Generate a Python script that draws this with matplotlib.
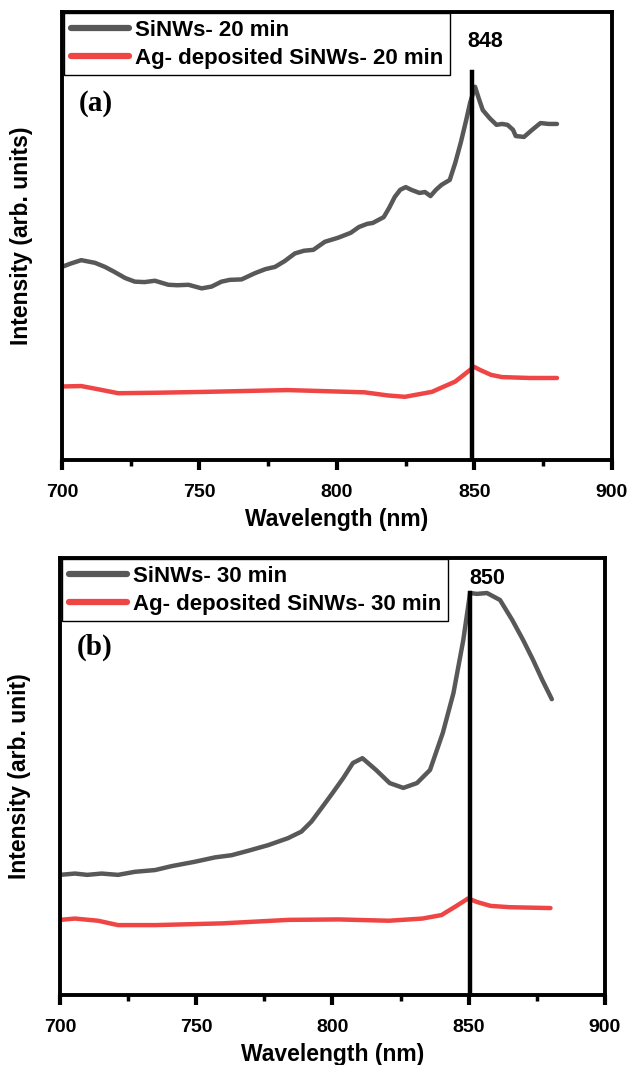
import numpy as np
import matplotlib.pyplot as plt
from matplotlib.ticker import MultipleLocator

# panel (a) readings
wl_a_gray = [700, 703, 707, 712, 715.6, 719, 723, 726.5, 730, 733.8, 738.7, 742, 746, 750.8,
             754.4, 758, 761, 765.3, 770.2, 774, 777.5, 781, 784.7, 788, 791.4, 795.6, 800.4,
             805, 808, 811, 813, 817, 819, 821, 823, 825, 827, 830, 832, 834, 836, 838, 841,
             843, 845, 847, 848.4, 850.2, 851.5, 853, 855.5, 858, 860, 862, 864, 865, 868,
             871, 874, 877, 880]
int_a_gray = [43.1, 43.8, 44.6, 44.0, 43.1, 42.0, 40.6, 39.8, 39.7, 40.0, 39.1, 39.0, 39.1,
              38.3, 38.7, 39.8, 40.2, 40.3, 41.7, 42.6, 43.1, 44.4, 46.1, 46.7, 46.9, 48.7,
              49.6, 50.7, 52.0, 52.7, 52.9, 54.2, 56.3, 58.7, 60.3, 60.9, 60.3, 59.6, 59.8,
              58.9, 60.3, 61.4, 62.5, 66.3, 70.8, 75.9, 79.7, 83.3, 80.8, 78.1, 76.3, 74.8,
              75.0, 74.8, 73.7, 72.3, 72.1, 73.7, 75.2, 75.0, 75.0]
wl_a_red = [700, 707, 713, 720.4, 733.8, 752, 782, 810, 818.5, 824.7, 834.5, 843, 848.4,
            849.8, 852, 856, 860, 870, 880]
int_a_red = [16.4, 16.5, 15.8, 14.9, 15.0, 15.2, 15.6, 15.1, 14.4, 14.1, 15.2, 17.5, 20.1,
             20.8, 20.1, 19.0, 18.5, 18.3, 18.3]

# panel (b) readings
wl_b_gray = [700, 705.5, 710, 715.3, 721.3, 727.5, 734.9, 741, 749.5, 756.9, 763, 769, 776.4,
             783.7, 788.6, 792.3, 796, 800, 804, 807.5, 811, 816, 821, 826, 831, 835.8,
             840.5, 844.4, 848, 850.5, 853, 856.7, 861.5, 866, 870, 873.6, 877, 880.5]
int_b_gray = [27.5, 27.8, 27.5, 27.8, 27.5, 28.2, 28.6, 29.5, 30.5, 31.5, 32.0, 33.0, 34.3,
              35.9, 37.4, 39.7, 42.8, 46.2, 49.7, 53.1, 54.2, 51.5, 48.5, 47.4, 48.5, 51.5,
              60.0, 69.1, 81.2, 92.0, 91.8, 92.0, 90.4, 85.8, 81.2, 76.7, 72.1, 67.7]
wl_b_red = [700, 705.5, 714, 721.3, 735, 759.5, 784, 802.3, 820.7, 833, 840, 845, 849.8,
            853, 858, 865, 880]
int_b_red = [17.2, 17.5, 17.0, 16.0, 16.0, 16.4, 17.2, 17.3, 17.0, 17.5, 18.3, 20.2, 22.1,
             21.3, 20.4, 20.1, 19.9]

GRAY = '#585858'
RED = '#ef4545'
SANS = 'Liberation Sans'


def panel(ax, wl_g, y_g, wl_r, y_r, minutes, peak, line_top, tag, ylab):
    ax.plot(wl_g, y_g, color=GRAY, lw=3.2, solid_capstyle='round',
            label='SiNWs- %d min' % minutes)
    ax.plot(wl_r, y_r, color=RED, lw=3.2, solid_capstyle='round',
            label='Ag- deposited SiNWs- %d min' % minutes)
    ax.plot([peak[0], peak[0]], [0, line_top], color='black', lw=3.2)
    ax.text(peak[1], peak[2], str(peak[3]), fontsize=15.5, fontweight='bold',
            family=SANS, ha='center', va='center')
    ax.text(706, 79.5, tag, fontsize=21, fontweight='bold', family='Liberation Serif',
            ha='left', va='center')
    ax.set_xlim(700, 900)
    ax.set_ylim(0, 100)
    ax.set_yticks([])
    ax.xaxis.set_major_locator(MultipleLocator(50))
    ax.xaxis.set_minor_locator(MultipleLocator(25))
    ax.tick_params(axis='x', which='major', direction='out', length=7, width=3,
                   labelsize=14, pad=10)
    ax.tick_params(axis='x', which='minor', direction='out', length=4, width=2.5)
    for lab in ax.get_xticklabels():
        lab.set_fontweight('bold')
        lab.set_family(SANS)
    for s in ax.spines.values():
        s.set_linewidth(2.8)
    ax.set_xlabel('Wavelength (nm)', fontsize=16.5, fontweight='bold', family=SANS,
                  labelpad=5)
    ax.set_ylabel(ylab, fontsize=16.5, fontweight='bold', family=SANS, labelpad=21)
    leg = ax.legend(loc='upper left', bbox_to_anchor=(0.004, 0.997), borderaxespad=0,
                    fancybox=False, framealpha=1, edgecolor='black', handlelength=2.6,
                    handletextpad=0.3, borderpad=0.3, labelspacing=0.3,
                    prop={'family': SANS, 'weight': 'bold', 'size': 16})
    leg.get_frame().set_linewidth(1.0)
    for h in leg.get_lines():
        h.set_linewidth(4.5)


def main():
    fig = plt.figure(figsize=(6.28, 10.65), dpi=100)
    ax1 = fig.add_axes([0.0987, 0.5681, 0.8758, 0.4207])
    ax2 = fig.add_axes([0.0955, 0.0657, 0.8678, 0.4103])
    panel(ax1, wl_a_gray, int_a_gray, wl_a_red, int_a_red, 20,
          (849, 853.8, 93.3, 848), 86.6, '(a)', 'Intensity (arb. units)')
    panel(ax2, wl_b_gray, int_b_gray, wl_b_red, int_b_red, 30,
          (850.5, 857, 95.4, 850), 92.0, '(b)', 'Intensity (arb. unit)')
    fig.savefig('out.png', dpi=100)


if __name__ == '__main__':
    main()
